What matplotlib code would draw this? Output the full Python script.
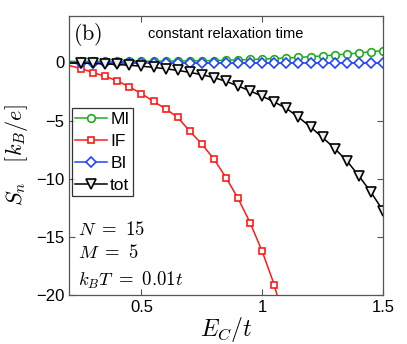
import matplotlib
matplotlib.use("Agg")
import matplotlib.pyplot as plt
from matplotlib.lines import Line2D

plt.rcParams['font.family'] = ['Liberation Sans', 'DejaVu Sans']
plt.rcParams['mathtext.fontset'] = 'cm'

ec = [0.20, 0.25, 0.30, 0.35, 0.40, 0.45, 0.50, 0.55, 0.60, 0.65, 0.70, 0.75, 0.80, 0.85,
      0.90, 0.95, 1.00, 1.05, 1.10, 1.15, 1.20, 1.25, 1.30, 1.35, 1.40, 1.45, 1.50]
mi = [0.10, 0.10, 0.10, 0.10, 0.10, 0.10, 0.11, 0.11, 0.12, 0.13, 0.14, 0.15, 0.17, 0.19,
      0.22, 0.26, 0.30, 0.34, 0.39, 0.44, 0.50, 0.57, 0.64, 0.73, 0.82, 0.92, 1.03]
bi = [0.0] * 27
tot = [-0.03, -0.05, -0.08, -0.12, -0.17, -0.24, -0.32, -0.42, -0.54, -0.68, -0.85, -1.05,
       -1.30, -1.62, -2.02, -2.45, -2.90, -3.40, -3.95, -4.70, -5.55, -6.45, -7.40, -8.45,
       -9.75, -11.15, -12.75]
ec_if = [0.20, 0.25, 0.30, 0.35, 0.40, 0.45, 0.50, 0.55, 0.60, 0.65, 0.70, 0.75, 0.80,
         0.85, 0.90, 0.95, 1.00, 1.05, 1.10]
iff = [-0.26, -0.52, -0.87, -1.19, -1.58, -2.10, -2.68, -3.35, -3.98, -4.72, -5.91, -7.01,
       -8.31, -9.90, -11.69, -13.79, -16.25, -19.13, -23.0]
labels = ['MI', 'IF', 'BI', 'tot']

fig = plt.figure(figsize=(4.07, 3.44), dpi=100)
ax = fig.add_axes([69/407, 49/344, 314/407, 279/344])

series = [
    (ec, mi, 'o', '#22aa22', 5.5, 'white'),
    (ec_if, iff, 's', '#ff1a1a', 5.0, 'white'),
    (ec, bi, 'D', '#2244ff', 5.0, 'white'),
    (ec, tot, 'v', 'black', 6.5, '#eeeeee'),
]
handles = []
for (x, y, m, c, ms, fc), lab in zip(series, labels):
    ax.plot(x, y, '-', marker=m, color=c, markersize=ms, markerfacecolor=fc,
            markeredgewidth=1.2, linewidth=1.1, markevery=slice(1, None))
    handles.append(Line2D([], [], color=c, marker=m, markersize=ms, markerfacecolor=fc,
                          markeredgewidth=1.2, linewidth=1.1))

ax.set_xlim(0.2, 1.5)
ax.set_ylim(-20, 4)
ax.set_xticks([0.5, 1, 1.5])
ax.set_xticklabels(['0.5', '1', '1.5'])
ax.set_yticks([0, -5, -10, -15, -20])
ax.set_yticklabels(['0', '\u22125', '\u221210', '\u221215', '\u221220'])
ax.tick_params(direction='in', top=True, right=True, labelsize=12, length=4, color='#555555')
for s in ax.spines.values():
    s.set_color('#555555')
    s.set_linewidth(0.9)

ax.set_xlabel(r'$E_C/t$', fontsize=17, labelpad=0)
ax.set_ylabel(r'$S_n\quad[k_B/e]$', fontsize=16, labelpad=4)

ax.text(0.012, 0.935, r'$\mathrm{(b)}$', transform=ax.transAxes, fontsize=16,
        ha='left', va='center')
ax.text(0.5, 0.935, 'constant relaxation time', transform=ax.transAxes, fontsize=10.5,
        ha='center', va='center')
ax.text(0.03, 0.234, r'$N\ =\ 15$', transform=ax.transAxes, fontsize=13.5, ha='left', va='center')
ax.text(0.03, 0.151, r'$M\ =\ 5$', transform=ax.transAxes, fontsize=13.5, ha='left', va='center')
ax.text(0.03, 0.054, r'$k_BT\ =\ 0.01t$', transform=ax.transAxes, fontsize=13.5, ha='left', va='center')

leg = ax.legend(handles, labels, loc='upper left', bbox_to_anchor=(0.0096, 0.670),
                fontsize=12.5, frameon=True, fancybox=False, edgecolor='black',
                handlelength=1.8, handletextpad=0.2, borderpad=0.2, labelspacing=0.4,
                borderaxespad=0.0, numpoints=1)
leg.get_frame().set_linewidth(0.9)

fig.savefig('out.png', dpi=100)
